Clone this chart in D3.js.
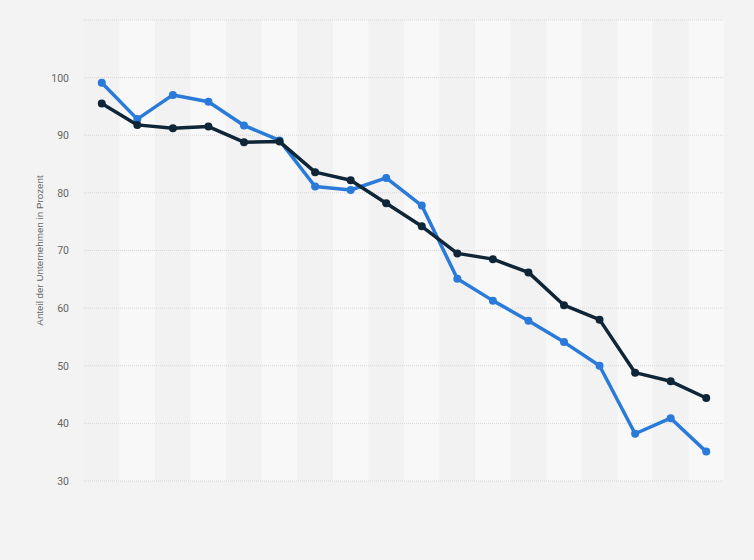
<!DOCTYPE html>
<html>
<head>
<meta charset="utf-8">
<script src="https://cdn.jsdelivr.net/npm/d3@7"></script>
<style>
  body { margin: 0; background: #f3f3f3; font-family: Roboto, "Open Sans", sans-serif; }
  #chart svg { display: block; }
</style>
</head>
<body>
<div id="chart"></div>
<script>
// one point per period, the periods have no visible labels in the source
const categories = ["P1","P2","P3","P4","P5","P6","P7","P8","P9","P10","P11","P12","P13","P14","P15","P16","P17","P18"];
const seriesBlue = [99.1, 92.8, 97.0, 95.8, 91.7, 89.1, 81.1, 80.5, 82.6, 77.8, 65.1, 61.3, 57.8, 54.1, 50.0, 38.2, 40.9, 35.1];
const seriesDark = [95.5, 91.8, 91.2, 91.5, 88.8, 88.9, 83.6, 82.2, 78.2, 74.2, 69.5, 68.5, 66.2, 60.5, 58.0, 48.8, 47.3, 44.4];
const gridTicks = [30, 40, 50, 60, 70, 80, 90, 100, 110];
const labelTicks = [30, 40, 50, 60, 70, 80, 90, 100];

const margin = {top: 20, right: 30, bottom: 79, left: 84},
  width = 754 - margin.left - margin.right,
  height = 560 - margin.top - margin.bottom;

const svg = d3.select("#chart")
  .append("svg")
  .attr("width", width + margin.left + margin.right)
  .attr("height", height + margin.top + margin.bottom)
  .append("g")
  .attr("transform", `translate(${margin.left},${margin.top})`);

const x = d3.scaleBand()
  .domain(categories)
  .range([0, width]);

const y = d3.scaleLinear()
  .domain([30, 110])
  .range([height, 0]);

// alternating column bands
svg.selectAll(".band")
  .data(categories)
  .enter()
  .append("rect")
  .attr("class", "band")
  .attr("x", d => x(d))
  .attr("y", 0)
  .attr("width", x.bandwidth())
  .attr("height", height)
  .attr("fill", (d, i) => i % 2 ? "#f8f8f8" : "#f2f2f2");

// dotted gridlines
svg.append("g")
  .selectAll("line")
  .data(gridTicks)
  .enter()
  .append("line")
  .attr("x1", 0)
  .attr("x2", width)
  .attr("y1", d => y(d))
  .attr("y2", d => y(d))
  .attr("stroke", "#d6d6d6")
  .attr("stroke-width", 1)
  .attr("stroke-dasharray", "1,1");

const yAxis = svg.append("g")
  .call(d3.axisLeft(y).tickValues(labelTicks).tickSize(0).tickPadding(15));
yAxis.select(".domain").remove();
yAxis.selectAll("text")
  .style("font-size", "10.5px")
  .style("font-family", "Roboto, sans-serif")
  .attr("fill", "#666");

svg.append("text")
  .attr("transform", "rotate(-90)")
  .attr("x", -height / 2)
  .attr("y", -41)
  .attr("text-anchor", "middle")
  .style("font-size", "9.8px")
  .style("font-family", "'Liberation Sans', Arial, sans-serif")
  .attr("fill", "#666")
  .text("Anteil der Unternehmen in Prozent");

const line = d3.line()
  .x((d, i) => x(categories[i]) + x.bandwidth() / 2)
  .y(d => y(d));

[[seriesBlue, "#2a7ad9"], [seriesDark, "#0f2538"]].forEach(([values, colour]) => {
  svg.append("path")
    .datum(values)
    .attr("fill", "none")
    .attr("stroke", colour)
    .attr("stroke-width", 3.5)
    .attr("stroke-linejoin", "round")
    .attr("d", line);

  svg.append("g")
    .selectAll("circle")
    .data(values)
    .enter()
    .append("circle")
    .attr("cx", (d, i) => x(categories[i]) + x.bandwidth() / 2)
    .attr("cy", d => y(d))
    .attr("r", 4)
    .attr("fill", colour);
});
</script>
</body>
</html>
